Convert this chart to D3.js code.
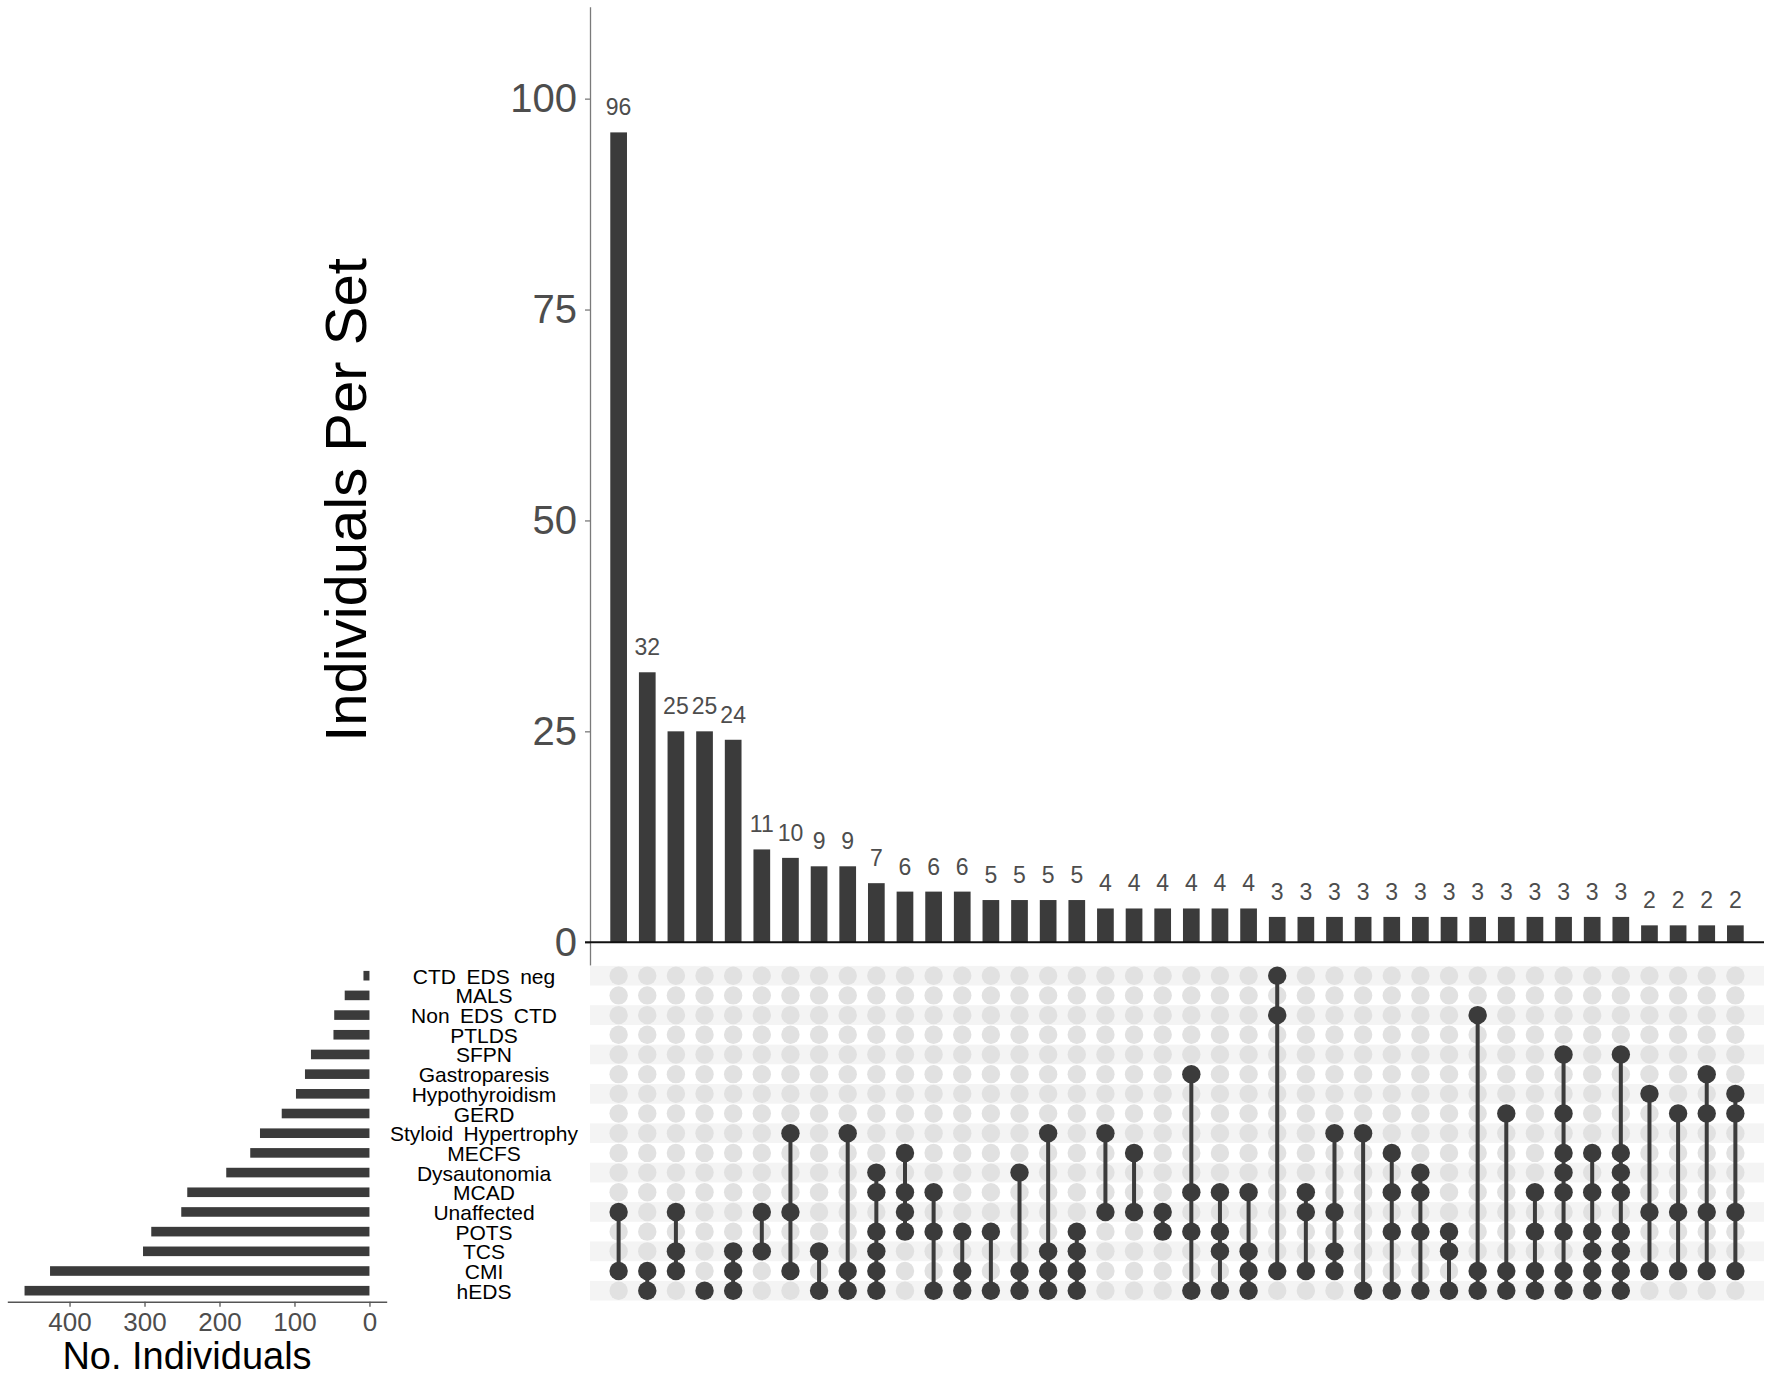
<!DOCTYPE html>
<html>
<head>
<meta charset="utf-8">
<script src="https://cdn.jsdelivr.net/npm/d3@7"></script>
<style>
  html, body { margin: 0; padding: 0; background: #fff; }
  svg { display: block; font-family: "Liberation Sans", Arial, Helvetica, sans-serif; }
</style>
</head>
<body>
<div id="chart"></div>
<script>
// Sets, top to bottom in the matrix
const setNames = ["CTD_EDS_neg", "MALS", "Non_EDS_CTD", "PTLDS", "SFPN", "Gastroparesis",
  "Hypothyroidism", "GERD", "Styloid_Hypertrophy", "MECFS", "Dysautonomia", "MCAD",
  "Unaffected", "POTS", "TCS", "CMI", "hEDS"];
const setSizes = [8, 33, 47, 48, 78, 86, 98, 117, 146, 159, 191, 243, 251, 291, 302, 426, 460];

// Intersection sizes, left to right
const intersectionCounts = [96, 32, 25, 25, 24, 11, 10, 9, 9, 7, 6, 6, 6, 5, 5, 5, 5,
  4, 4, 4, 4, 4, 4, 3, 3, 3, 3, 3, 3, 3, 3, 3, 3, 3, 3, 3, 2, 2, 2, 2];

// Members of each intersection (same order as intersectionCounts)
const intersectionMembers = [
  ["Unaffected", "CMI"],
  ["CMI", "hEDS"],
  ["Unaffected", "TCS", "CMI"],
  ["hEDS"],
  ["TCS", "CMI", "hEDS"],
  ["Unaffected", "TCS"],
  ["Styloid_Hypertrophy", "Unaffected", "CMI"],
  ["TCS", "hEDS"],
  ["Styloid_Hypertrophy", "CMI", "hEDS"],
  ["Dysautonomia", "MCAD", "POTS", "TCS", "CMI", "hEDS"],
  ["MECFS", "MCAD", "Unaffected", "POTS"],
  ["MCAD", "POTS", "hEDS"],
  ["POTS", "CMI", "hEDS"],
  ["POTS", "hEDS"],
  ["Dysautonomia", "CMI", "hEDS"],
  ["Styloid_Hypertrophy", "TCS", "CMI", "hEDS"],
  ["POTS", "TCS", "CMI", "hEDS"],
  ["Styloid_Hypertrophy", "Unaffected"],
  ["MECFS", "Unaffected"],
  ["Unaffected", "POTS"],
  ["Gastroparesis", "MCAD", "POTS", "hEDS"],
  ["MCAD", "POTS", "TCS", "hEDS"],
  ["MCAD", "TCS", "CMI", "hEDS"],
  ["CTD_EDS_neg", "Non_EDS_CTD", "CMI"],
  ["MCAD", "Unaffected", "CMI"],
  ["Styloid_Hypertrophy", "Unaffected", "TCS", "CMI"],
  ["Styloid_Hypertrophy", "hEDS"],
  ["MECFS", "MCAD", "POTS", "hEDS"],
  ["Dysautonomia", "MCAD", "POTS", "hEDS"],
  ["POTS", "TCS", "hEDS"],
  ["Non_EDS_CTD", "CMI", "hEDS"],
  ["GERD", "CMI", "hEDS"],
  ["MCAD", "POTS", "CMI", "hEDS"],
  ["SFPN", "GERD", "MECFS", "Dysautonomia", "MCAD", "POTS", "CMI", "hEDS"],
  ["MECFS", "MCAD", "POTS", "TCS", "CMI", "hEDS"],
  ["SFPN", "MECFS", "Dysautonomia", "MCAD", "POTS", "TCS", "CMI", "hEDS"],
  ["Hypothyroidism", "Unaffected", "CMI"],
  ["GERD", "Unaffected", "CMI"],
  ["Gastroparesis", "GERD", "Unaffected", "CMI"],
  ["Hypothyroidism", "GERD", "Unaffected", "CMI"]
];

const barTicks = [0, 25, 50, 75, 100];
const sizeTicks = [0, 100, 200, 300, 400];

const W = 1772, H = 1379;
const DARK = "#3b3b3b", TICK_GREY = "#4d4d4d";

const svg = d3.select("#chart").append("svg")
  .attr("width", W).attr("height", H)
  .attr("viewBox", `0 0 ${W} ${H}`);

const cols = d3.range(intersectionCounts.length);
const x = d3.scalePoint().domain(cols).range([590, 1764]).padding(1);
const yBar = d3.scaleLinear().domain([-2.7, 110.9]).range([965, 6.7]);
const yRow = d3.scalePoint().domain(setNames).range([975.7, 1290.7]);
const rowStep = yRow.step();
const xSize = d3.scaleLinear().domain([-23, 483]).range([386.7, 7.3]);

// ---- intersection bar chart ----
const barW = 16.7;
svg.append("g").selectAll("rect")
  .data(intersectionCounts)
  .join("rect")
  .attr("x", (d, i) => x(i) - barW / 2)
  .attr("width", barW)
  .attr("y", (d) => yBar(d))
  .attr("height", (d) => yBar(0) - yBar(d))
  .attr("fill", DARK);

svg.append("g").selectAll("text")
  .data(intersectionCounts)
  .join("text")
  .attr("x", (d, i) => x(i))
  .attr("y", (d) => yBar(d) - 17)
  .attr("text-anchor", "middle")
  .attr("font-size", 23)
  .attr("fill", TICK_GREY)
  .text((d) => d);

// y axis
const yAxis = svg.append("g")
  .attr("transform", "translate(590,0)")
  .call(d3.axisLeft(yBar).tickValues(barTicks).tickSize(5).tickSizeOuter(0).tickPadding(8));
yAxis.select(".domain").attr("stroke", "#7a7a7a").attr("stroke-width", 1.3);
yAxis.selectAll(".tick line").attr("stroke", "#7a7a7a").attr("stroke-width", 1.3);
yAxis.selectAll(".tick text")
  .attr("font-size", 40).attr("fill", TICK_GREY)
  .attr("font-family", "'Liberation Sans', Arial, sans-serif");

// baseline
svg.append("line")
  .attr("x1", 585).attr("x2", 1764)
  .attr("y1", yBar(0)).attr("y2", yBar(0))
  .attr("stroke", "#111").attr("stroke-width", 2);

svg.append("text")
  .attr("transform", "translate(366,500) rotate(-90)")
  .attr("text-anchor", "middle")
  .attr("font-size", 58)
  .attr("fill", "#000")
  .text("Individuals Per Set");

// ---- matrix ----
svg.append("g").selectAll("rect")
  .data(setNames.filter((d, i) => i % 2 === 0))
  .join("rect")
  .attr("x", 590).attr("width", 1764 - 590)
  .attr("y", (d) => yRow(d) - rowStep / 2)
  .attr("height", rowStep)
  .attr("fill", "#f4f4f4");

const dotR = 9.2;
const cells = [];
cols.forEach((c) => setNames.forEach((s) => {
  cells.push({ col: c, set: s, on: intersectionMembers[c].includes(s) });
}));

svg.append("g").selectAll("circle")
  .data(cells.filter((d) => !d.on))
  .join("circle")
  .attr("cx", (d) => x(d.col))
  .attr("cy", (d) => yRow(d.set))
  .attr("r", dotR)
  .attr("fill", "#e1e1e1");

svg.append("g").selectAll("line")
  .data(intersectionMembers.map((m, i) => ({ col: i, ys: m.map((s) => yRow(s)) }))
    .filter((d) => d.ys.length > 1))
  .join("line")
  .attr("x1", (d) => x(d.col)).attr("x2", (d) => x(d.col))
  .attr("y1", (d) => d3.min(d.ys)).attr("y2", (d) => d3.max(d.ys))
  .attr("stroke", DARK).attr("stroke-width", 4);

svg.append("g").selectAll("circle")
  .data(cells.filter((d) => d.on))
  .join("circle")
  .attr("cx", (d) => x(d.col))
  .attr("cy", (d) => yRow(d.set))
  .attr("r", dotR)
  .attr("fill", DARK);

// set labels
svg.append("g").selectAll("text")
  .data(setNames)
  .join("text")
  .attr("x", 484)
  .attr("y", (d) => yRow(d) + 8)
  .attr("text-anchor", "middle")
  .attr("font-size", 21)
  .attr("fill", "#000")
  .text((d) => d.replace(/_/g, "\u2002"));

// ---- set size bars ----
const sizeBarH = 9.6;
svg.append("g").selectAll("rect")
  .data(setNames)
  .join("rect")
  .attr("x", (d, i) => xSize(setSizes[i]))
  .attr("width", (d, i) => xSize(0) - xSize(setSizes[i]))
  .attr("y", (d) => yRow(d) - sizeBarH / 2)
  .attr("height", sizeBarH)
  .attr("fill", DARK);

const sizeAxis = svg.append("g")
  .attr("transform", "translate(0,1301.7)")
  .call(d3.axisBottom(xSize).tickValues(sizeTicks).tickSize(5).tickSizeOuter(0).tickPadding(6));
sizeAxis.select(".domain").attr("stroke", "#555").attr("stroke-width", 1.5);
sizeAxis.selectAll(".tick line").attr("stroke", "#555").attr("stroke-width", 1.3);
sizeAxis.selectAll(".tick text")
  .attr("font-size", 26).attr("fill", TICK_GREY)
  .attr("font-family", "'Liberation Sans', Arial, sans-serif");

svg.append("text")
  .attr("x", 187).attr("y", 1369)
  .attr("text-anchor", "middle")
  .attr("font-size", 38)
  .attr("fill", "#000")
  .text("No. Individuals");
</script>
</body>
</html>
